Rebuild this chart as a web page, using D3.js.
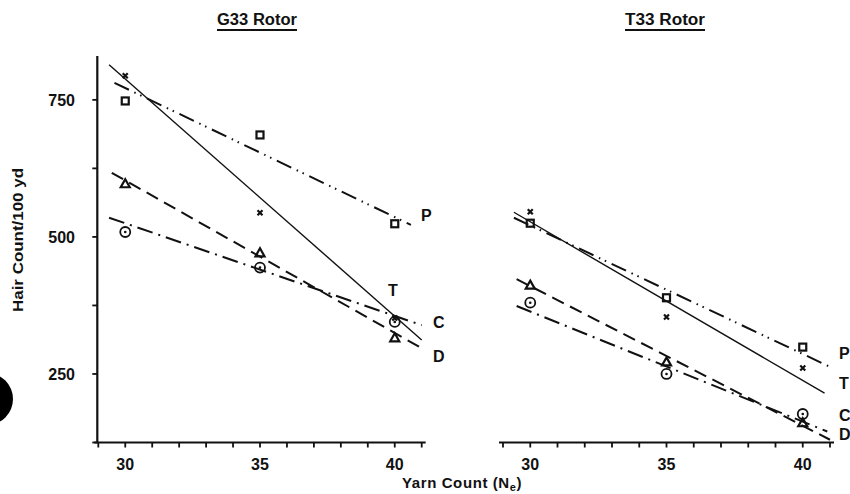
<!DOCTYPE html>
<html>
<head>
<meta charset="utf-8">
<script src="https://cdn.jsdelivr.net/npm/d3@7"></script>
<style>
  body { margin: 0; background: #fff; }
  svg { display: block; }
  text { font-family: "Liberation Sans", Arial, sans-serif; fill: #111; font-weight: bold; }
</style>
</head>
<body>
<svg id="chart" width="850" height="494"></svg>
<script>
// yarn counts where hairiness was measured
var yarnCounts = [30, 35, 40];
var xTicks = d3.range(29, 42, 1);
var xTickLabels = [30, 35, 40];
var yMajorTicks = [250, 500, 750];
var yMinorTicks = [125, 375, 625];

// measured hair counts per 100 yd, G33 rotor
var g33P = [748, 686, 524];
var g33T = [794, 544, 352];
var g33C = [509, 444, 345];
var g33D = [597, 471, 316];

// measured hair counts per 100 yd, T33 rotor
var t33P = [525, 389, 299];
var t33T = [546, 354, 261];
var t33C = [380, 250, 177];
var t33D = [412, 272, 161];

// fitted lines, [start count, start value, end count, end value]
var g33Fit = { P: [29.6, 781, 40.6, 522], T: [29.4, 814, 41, 312], C: [29.4, 535, 41, 339], D: [29.5, 617, 41, 297] };
var t33Fit = { P: [29.4, 535, 41, 263], T: [29.4, 545, 40.8, 215], C: [29.5, 374, 40.9, 145], D: [29.5, 423, 41, 130] };

var seriesNames = ["P", "T", "C", "D"];

// line style and marker for each series
var dashFor = { P: "16,6,1.5,5,1.5,6", T: null, C: "16,6,2,6", D: "13,7" };
var markerFor = { P: "square", T: "cross", C: "circle", D: "triangle" };

var svg = d3.select("#chart");

// one y scale shared by both panels
var y = d3.scaleLinear().domain([125, 830]).range([442.5, 56]);

// hole punch shadow from the scanned page
svg.append("circle").attr("cx", -13).attr("cy", 399).attr("r", 26).attr("fill", "#000");

function drawMarker(g, kind, cx, cy) {
  if (kind == "square") {
    g.append("rect").attr("x", cx - 3.5).attr("y", cy - 3.5).attr("width", 7).attr("height", 7)
      .attr("fill", "none").attr("stroke", "#111").attr("stroke-width", 2.2);
  } else if (kind == "cross") {
    g.append("path").attr("d", "M" + (cx - 2.5) + "," + (cy - 2.5) + "L" + (cx + 2.5) + "," + (cy + 2.5) +
      "M" + (cx + 2.5) + "," + (cy - 2.5) + "L" + (cx - 2.5) + "," + (cy + 2.5))
      .attr("stroke", "#111").attr("stroke-width", 2.2);
  } else if (kind == "circle") {
    g.append("circle").attr("cx", cx).attr("cy", cy).attr("r", 5)
      .attr("fill", "none").attr("stroke", "#111").attr("stroke-width", 1.8);
    g.append("circle").attr("cx", cx).attr("cy", cy).attr("r", 1.3).attr("fill", "#111");
  } else if (kind == "triangle") {
    g.append("path").attr("d", "M" + cx + "," + (cy - 4.5) + "L" + (cx + 4.5) + "," + (cy + 3.5) + "L" + (cx - 4.5) + "," + (cy + 3.5) + "Z")
      .attr("fill", "none").attr("stroke", "#111").attr("stroke-width", 2.2);
  }
  return;
} // end function drawMarker

function drawPanel(opts) {
  var x = d3.scaleLinear().domain([29, 41]).range(opts.xRange);
  var g = svg.append("g");

  // x axis line with unit ticks below it
  g.append("line").attr("x1", x(29) - 4).attr("x2", x(41) + 4).attr("y1", y(125)).attr("y2", y(125))
    .attr("stroke", "#111").attr("stroke-width", 2.2);
  g.selectAll(".xtick").data(xTicks).enter().append("line")
    .attr("x1", function (d) { return x(d); }).attr("x2", function (d) { return x(d); })
    .attr("y1", y(125)).attr("y2", y(125) + 5)
    .attr("stroke", "#111").attr("stroke-width", 1.8);
  g.selectAll(".xlab").data(xTickLabels).enter().append("text")
    .attr("x", function (d) { return x(d); }).attr("y", y(125) + 27)
    .attr("text-anchor", "middle").style("font-size", "16px")
    .text(function (d) { return d; });

  // y axis only on the left panel
  if (opts.yAxis) {
    g.append("line").attr("x1", x(29) - 1).attr("x2", x(29) - 1).attr("y1", y(830)).attr("y2", y(125))
      .attr("stroke", "#111").attr("stroke-width", 2.2);
    g.selectAll(".ytick").data(yMajorTicks.concat(yMinorTicks)).enter().append("line")
      .attr("x1", x(29) - 6).attr("x2", x(29) - 1)
      .attr("y1", function (d) { return y(d); }).attr("y2", function (d) { return y(d); })
      .attr("stroke", "#111").attr("stroke-width", 1.8);
    g.selectAll(".ylab").data(yMajorTicks).enter().append("text")
      .attr("x", 75).attr("y", function (d) { return y(d) + 6; })
      .attr("text-anchor", "end").style("font-size", "16px")
      .text(function (d) { return d; });
  }

  // fitted lines
  seriesNames.forEach(function (s) {
    var f = opts.fit[s];
    var ln = g.append("line")
      .attr("x1", x(f[0])).attr("y1", y(f[1])).attr("x2", x(f[2])).attr("y2", y(f[3]))
      .attr("stroke", "#111").attr("stroke-width", s == "T" ? 1.4 : 2);
    if (dashFor[s]) ln.attr("stroke-dasharray", dashFor[s]);
  });

  // measured points
  seriesNames.forEach(function (s) {
    opts.values[s].forEach(function (v, i) {
      drawMarker(g, markerFor[s], x(yarnCounts[i]), y(v));
    });
  });

  // series letters at line ends
  opts.labels.forEach(function (l) {
    g.append("text").attr("x", l.x).attr("y", l.y).style("font-size", "16px").text(l.text);
  });

  // underlined panel title
  g.append("text").attr("x", opts.titleX).attr("y", 25).attr("text-anchor", "middle")
    .style("font-size", "16px").attr("textLength", 80).attr("lengthAdjust", "spacingAndGlyphs").text(opts.title);
  g.append("line").attr("x1", opts.titleX - 40).attr("x2", opts.titleX + 40).attr("y1", 30).attr("y2", 30)
    .attr("stroke", "#111").attr("stroke-width", 1.8);

  return;
} // end function drawPanel

drawPanel({
  title: "G33 Rotor", titleX: 257, xRange: [98.3, 421.7], yAxis: true, fit: g33Fit,
  values: { P: g33P, T: g33T, C: g33C, D: g33D },
  labels: [{ text: "P", x: 421, y: 221 }, { text: "T", x: 388, y: 296 }, { text: "C", x: 433, y: 328 }, { text: "D", x: 433, y: 362 }]
});

drawPanel({
  title: "T33 Rotor", titleX: 665, xRange: [503, 830], yAxis: false, fit: t33Fit,
  values: { P: t33P, T: t33T, C: t33C, D: t33D },
  labels: [{ text: "P", x: 839, y: 359 }, { text: "T", x: 839, y: 389 }, { text: "C", x: 839, y: 421 }, { text: "D", x: 839, y: 440 }]
});

// axis titles
svg.append("text").attr("transform", "translate(23,240) rotate(-90)").attr("text-anchor", "middle")
  .style("font-size", "14px").style("font-weight", "600").attr("textLength", 144).attr("lengthAdjust", "spacingAndGlyphs")
  .text("Hair Count/100 yd");

var xt = svg.append("text").attr("x", 402).attr("y", 488).style("font-size", "15px").style("letter-spacing", "0.6px");
xt.append("tspan").text("Yarn Count (N");
xt.append("tspan").attr("dy", 3).style("font-size", "11px").text("e");
xt.append("tspan").attr("dy", -3).text(")");
</script>
</body>
</html>
